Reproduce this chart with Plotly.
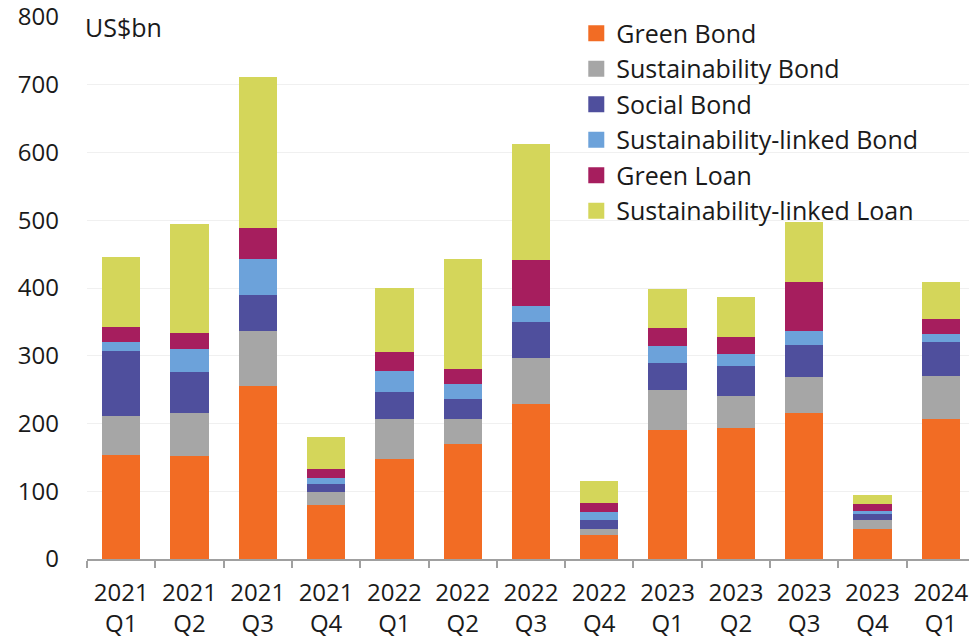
import plotly.graph_objects as go

categories = ["2021<br>Q1", "2021<br>Q2", "2021<br>Q3", "2021<br>Q4",
              "2022<br>Q1", "2022<br>Q2", "2022<br>Q3", "2022<br>Q4",
              "2023<br>Q1", "2023<br>Q2", "2023<br>Q3", "2023<br>Q4",
              "2024<br>Q1"]

green_bond = [154, 152, 255, 80, 148, 170, 229, 36, 191, 193, 216, 45, 207]
sustainability_bond = [57, 64, 82, 19, 59, 37, 67, 9, 58, 48, 53, 13, 63]
social_bond = [96, 60, 52, 11, 39, 29, 54, 13, 40, 44, 47, 9, 51]
sustainability_linked_bond = [14, 34, 54, 10, 32, 23, 23, 11, 26, 18, 21, 4, 11]
green_loan = [22, 23, 45, 13, 27, 22, 68, 13, 26, 24, 72, 10, 22]
sustainability_linked_loan = [103, 162, 224, 47, 95, 162, 172, 33, 57, 60, 89, 14, 55]

series_names = ["Green Bond", "Sustainability Bond", "Social Bond",
                "Sustainability-linked Bond", "Green Loan", "Sustainability-linked Loan"]
series_values = [green_bond, sustainability_bond, social_bond,
                 sustainability_linked_bond, green_loan, sustainability_linked_loan]
colors = ["#F26C24", "#A6A6A6", "#4F4F9D", "#6CA2DA", "#A61E5E", "#D4D65A"]

y_ticks = [0, 100, 200, 300, 400, 500, 600, 700, 800]

FONT = "Open Sans"

fig = go.Figure()
for name, vals, col in zip(series_names, series_values, colors):
    fig.add_trace(go.Bar(x=categories, y=vals, name=name, marker_color=col,
                         marker_line_width=0, showlegend=False))
# legend entries with larger square symbols
for name, col in zip(series_names, colors):
    fig.add_trace(go.Scatter(x=[None], y=[None], mode="markers", name=name,
                             marker=dict(symbol="square", size=16, color=col),
                             showlegend=True))

# the page body adds an 8px margin, so the figure is sized to fill the rest
fig.update_layout(
    width=969, height=630,
    barmode="stack", bargap=0.44,
    plot_bgcolor="white", paper_bgcolor="white",
    margin=dict(l=79, r=2, t=9, b=79),
    font=dict(family=FONT, size=24, color="#1a1a1a"),
    legend=dict(x=0.551, y=1.012, xanchor="left", yanchor="top",
                bgcolor="rgba(0,0,0,0)", font=dict(size=25, family=FONT),
                traceorder="normal", itemsizing="trace"),
    xaxis=dict(showline=True, linecolor="#A0A0A0", linewidth=1.5,
               ticks="outside", tickson="boundaries", ticklen=7,
               tickcolor="#A0A0A0", tickwidth=1.5, showgrid=False,
               ticklabelstandoff=11, tickfont=dict(size=24), automargin=False,
               ticklabeloverflow="allow"),
    yaxis=dict(range=[0, 800], tickvals=y_ticks, showgrid=True,
               gridcolor="#F0F0F0", gridwidth=1, zeroline=False,
               showline=False, ticks="", ticklabelstandoff=27,
               tickfont=dict(size=24), automargin=False,
               ticklabeloverflow="allow"),
    annotations=[dict(text="US$bn", xref="paper", yref="paper", x=-0.005, y=0.981,
                      xanchor="left", yanchor="middle", showarrow=False,
                      font=dict(size=25, family=FONT))],
)

fig.write_html("out.html")
